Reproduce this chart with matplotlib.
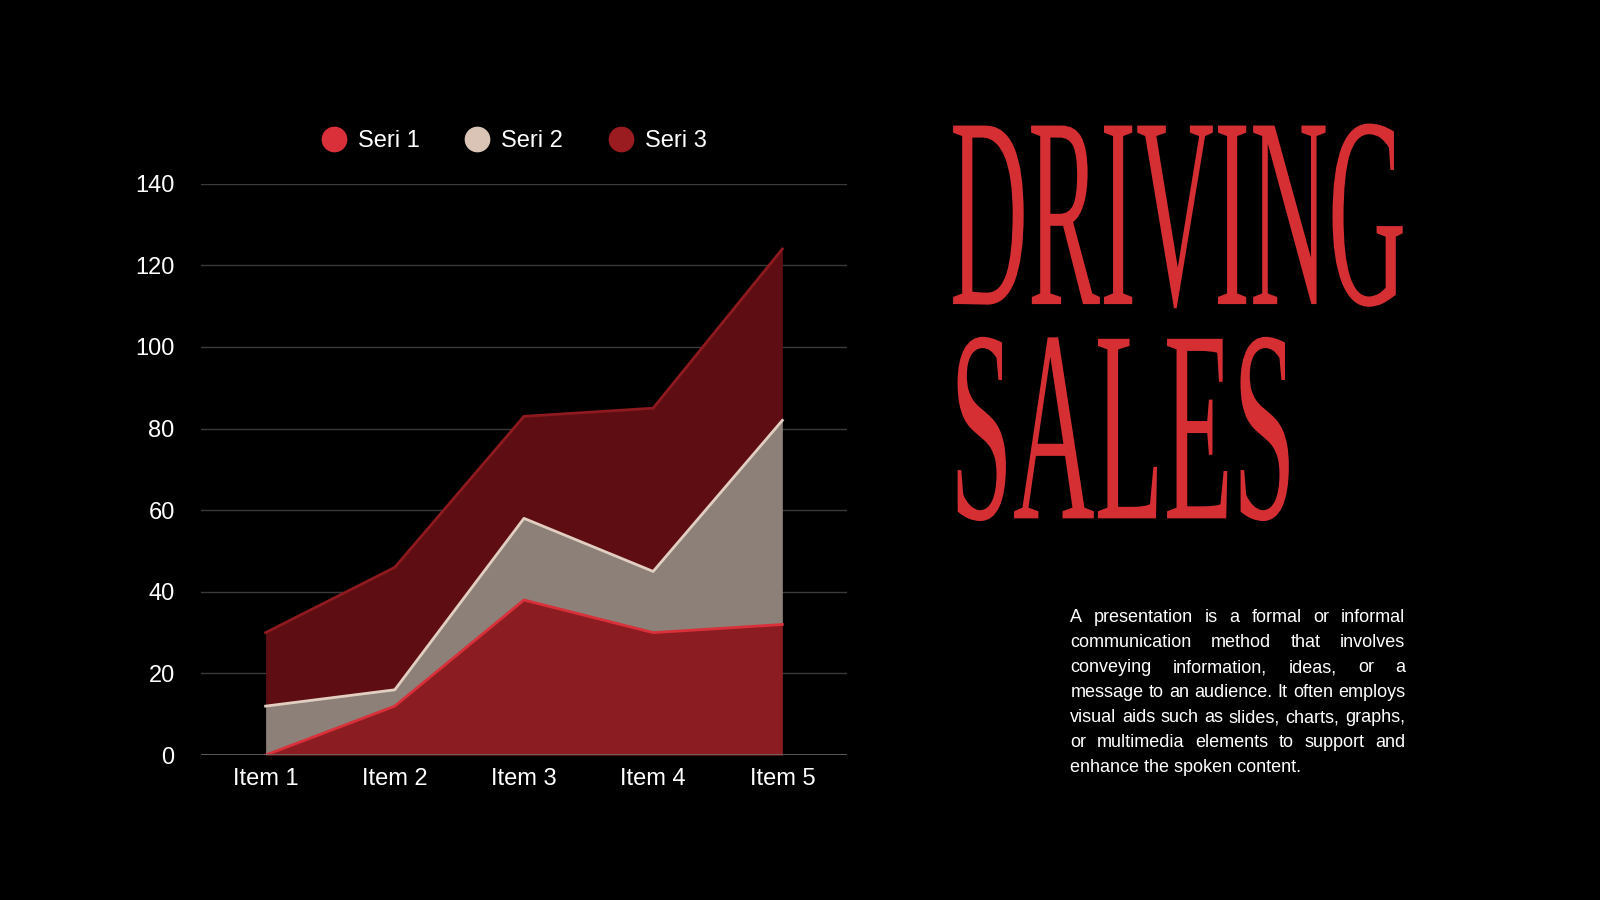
import matplotlib
matplotlib.use('Agg')
import matplotlib.pyplot as plt
import numpy as np
from matplotlib.lines import Line2D
from matplotlib.patheffects import AbstractPathEffect
from matplotlib.transforms import Affine2D

items = ['Item 1', 'Item 2', 'Item 3', 'Item 4', 'Item 5']
seri1 = [0, 12, 38, 30, 32]
seri2 = [12, 4, 20, 15, 50]
seri3 = [18, 30, 25, 40, 42]
series_names = ['Seri 1', 'Seri 2', 'Seri 3']
yticks = [0, 20, 40, 60, 80, 100, 120, 140]

title_lines = ['DRIVING', 'SALES']
body_lines = [
    'A presentation is a formal or informal',
    'communication method that involves',
    'conveying information, ideas, or a',
    'message to an audience. It often employs',
    'visual aids such as slides, charts, graphs,',
    'or multimedia elements to support and',
    'enhance the spoken content.',
]

RED = '#D62F33'
fill_cols = ['#8B1D22', '#8C8078', '#5E0E13']
line_cols = ['#D9303A', '#E2CFC2', '#8E1A1F']
legend_cols = ['#D9303A', '#D9C4B5', '#9B1C20']

W, H = 1568, 882  # reference pixel frame


def fx(x):
    return x / W


def fy(y):
    return 1 - y / H


class Stretch(AbstractPathEffect):
    # stretch glyphs vertically around the baseline
    def __init__(self, sy):
        super().__init__()
        self.sy = sy

    def draw_path(self, renderer, gc, tpath, affine, rgbFace=None):
        renderer.draw_path(gc, tpath, Affine2D().scale(1, self.sy) + affine, rgbFace)


fig = plt.figure(figsize=(16, 9), dpi=100, facecolor='black')
ax = fig.add_axes([fx(197), fy(740), fx(830) - fx(197), fy(180) - fy(740)])
ax.set_facecolor('black')

x = np.arange(len(items))
levels = np.cumsum([np.zeros(len(items)), seri1, seri2, seri3], axis=0)

for i in range(2, -1, -1):
    ax.fill_between(x, levels[i], levels[i + 1], color=fill_cols[i], lw=0, zorder=2)
for i in range(3):
    ax.plot(x, levels[i + 1], color=line_cols[i], lw=2, zorder=3 + (2 - i))

ax.set_xlim(-0.5, 4.5)
ax.set_ylim(0, 140)
ax.set_yticks(yticks)
ax.set_xticks(x)
ax.set_xticklabels(items)
for yv in yticks[1:]:
    ax.axhline(yv, color='#3a3a3a', lw=1, zorder=1)
ax.axhline(0, color='#6a6a6a', lw=1.2, zorder=6)
for s in ax.spines.values():
    s.set_visible(False)
ax.tick_params(length=0, colors='white', labelsize=17)
ax.tick_params(axis='y', pad=19)
ax.tick_params(axis='x', pad=9)
for lab in ax.get_xticklabels() + ax.get_yticklabels():
    lab.set_family('Liberation Sans')

handles = [Line2D([], [], marker='o', ls='', markersize=17.5, markerfacecolor=c,
                  markeredgecolor=c) for c in legend_cols]
leg = fig.legend(handles, series_names, loc='center', bbox_to_anchor=(fx(503), fy(138)),
                 ncol=3, frameon=False, handlelength=1.2, handletextpad=0.42,
                 columnspacing=1.85, prop={'family': 'Liberation Sans', 'size': 17})
for t in leg.get_texts():
    t.set_color('white')

renderer = fig.canvas.get_renderer()
sx_ = 1600 / W
sy_ = 900 / H

# title: fit width and cap height of each line
title_boxes = [(931, 1378, 123, 298), (931, 1270, 332, 508)]
for txt, (x0, x1, yt, yb) in zip(title_lines, title_boxes):
    t = fig.text(fx(x0), fy(yb), txt, fontsize=80, family='Liberation Serif',
                 color=RED, va='baseline', ha='left')
    w = t.get_window_extent(renderer).width
    size = 80 * (x1 - x0) * sx_ / w
    t.set_fontsize(size)
    cap_px = 0.655 * size * 100 / 72
    t.set_path_effects([Stretch((yb - yt) * sy_ / cap_px)])

# justified paragraph, font sized so the tightest line fills the box
bx0, bx1 = 1049, 1377
probe = fig.text(0, 0, '', fontsize=12, family='Liberation Sans')
widest = 0
for line in body_lines:
    probe.set_text(line)
    widest = max(widest, probe.get_window_extent(renderer).width / sx_)
probe.remove()
body_size = 12 * (bx1 - bx0) / widest * 0.995

for k, line in enumerate(body_lines):
    yb = 610 + k * 24.5
    words = line.split(' ')
    if k == len(body_lines) - 1:
        fig.text(fx(bx0), fy(yb), line, fontsize=body_size, family='Liberation Sans',
                 color='white', va='baseline', ha='left')
        continue
    objs = [fig.text(0, fy(yb), w_, fontsize=body_size, family='Liberation Sans',
                     color='white', va='baseline', ha='left') for w_ in words]
    widths = [o.get_window_extent(renderer).width / sx_ for o in objs]
    gap = ((bx1 - bx0) - sum(widths)) / (len(words) - 1)
    xpos = bx0
    for o, wd in zip(objs, widths):
        o.set_x(fx(xpos))
        xpos += wd + gap

fig.savefig('out.png', dpi=100, facecolor='black')
